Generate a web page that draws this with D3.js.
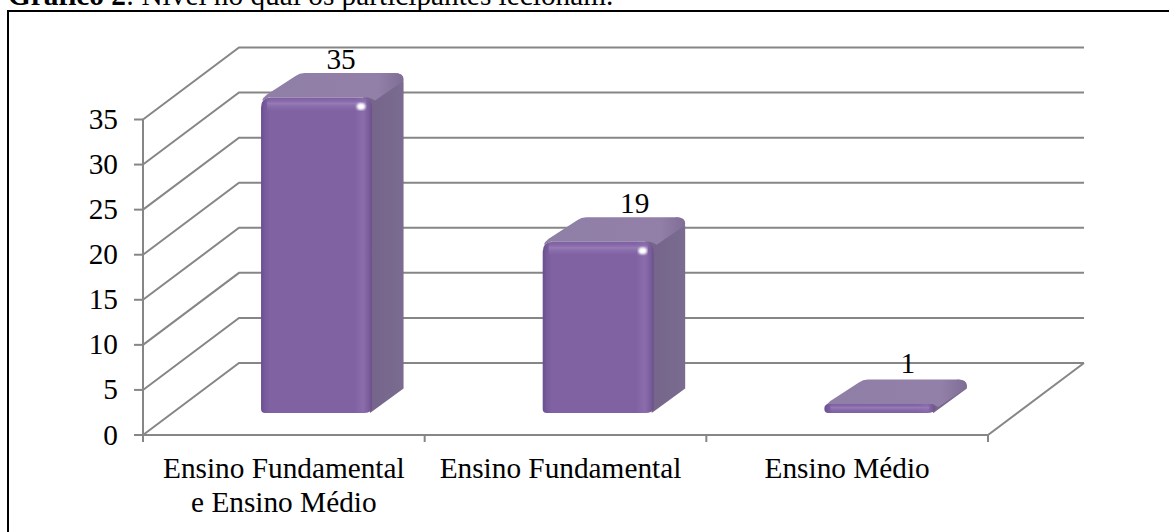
<!DOCTYPE html>
<html><head><meta charset="utf-8">
<style>html,body{margin:0;padding:0;background:#fff;overflow:hidden}svg{display:block}text{font-family:"Liberation Serif",serif;fill:#000}</style>
<script src="https://d3js.org/d3.v7.min.js"></script></head><body>
<svg id="c" width="1169" height="532"></svg>
<script>
const categories=[["Ensino Fundamental","e Ensino Médio"],["Ensino Fundamental"],["Ensino Médio"]];
const values=[35,19,1];
const yTicks=[0,5,10,15,20,25,30,35];
const titleBold="Gráfico 2";
const titleRest=": Nível no qual os participantes lecionam.";

const svg=d3.select("#c");
const defs=svg.append("defs");
const P={x0:143,x1:988,y0:435,yT:119.5,dx:96,dy:-72};
const y=d3.scaleLinear().domain([0,35]).range([P.y0,P.yT]);
const x=d3.scaleBand().domain(d3.range(categories.length)).range([P.x0,P.x1]);
const barW=111,bdx=31.5,bdy=-24.5,zx=32.7,zy=-22;
const labelShift=[24.5,36.5,28],labelLift=[4,4,6],catShift=[0,-5,0];
const grid="#868686";

function grad(id,dir,stops){
 const g=defs.append("linearGradient").attr("id",id);
 if(dir==="h")g.attr("x1",0).attr("x2",1).attr("y1",0).attr("y2",0);else g.attr("x1",0).attr("x2",0).attr("y1",0).attr("y2",1);
 stops.forEach(s=>g.append("stop").attr("offset",s[0]).attr("stop-color",s[1]).attr("stop-opacity",s[2]===undefined?1:s[2]));
}
grad("front","h",[[0,"#6a5090"],[0.04,"#785b9c"],[0.08,"#8062a3"],[0.84,"#8062a3"],[0.92,"#8b6dac"],[0.97,"#7a5d9c"],[1,"#6b5189"]]);
grad("topEdge","v",[[0,"#8062a3",0],[0.4,"#967bb6",1],[1,"#8062a3",0]]);
grad("side","h",[[0,"#756389"],[0.8,"#786a8e"],[1,"#7b6b92"]]);
grad("topF","h",[[0,"#8f7ea6"],[0.82,"#9280a8"],[1,"#7f6d96"]]);
defs.append("filter").attr("id","soft").append("feGaussianBlur").attr("stdDeviation",1);

svg.append("path").attr("d","M8,540 L8,11 L1180,11").attr("fill","none").attr("stroke","#000").attr("stroke-width",2);

const t=svg.append("text").attr("x",8).attr("y",4.5).attr("font-size",29.3);
t.append("tspan").attr("font-weight","bold").text(titleBold);
t.append("tspan").text(titleRest);

const g=svg.append("g").attr("fill","none").attr("stroke",grid).attr("stroke-width",2);
yTicks.forEach(v=>{
 g.append("path").attr("d",d3.line()([[P.x0,y(v)],[P.x0+P.dx,y(v)+P.dy],[P.x1+P.dx,y(v)+P.dy]]));
 g.append("line").attr("x1",P.x0-9).attr("x2",P.x0).attr("y1",y(v)).attr("y2",y(v));
});
g.append("line").attr("x1",P.x0).attr("x2",P.x0).attr("y1",y(35)).attr("y2",y(0)+7);
g.append("line").attr("x1",P.x0).attr("x2",P.x1).attr("y1",y(0)).attr("y2",y(0));
g.append("line").attr("x1",P.x1).attr("x2",P.x1+P.dx).attr("y1",y(0)).attr("y2",y(0)+P.dy);
d3.range(categories.length+1).forEach(i=>{
 const xx=i<categories.length?x(i):P.x1;
 g.append("line").attr("x1",xx).attr("x2",xx).attr("y1",y(0)).attr("y2",y(0)+7);
});

svg.append("g").selectAll("text").data(yTicks).join("text")
 .attr("x",P.x0-25).attr("y",v=>y(v)+9.5).attr("text-anchor","end").attr("font-size",29.3).text(d=>d);

values.forEach((v,i)=>{
 const L=x(i)+x.bandwidth()/2+zx-barW/2, R=L+barW;
 const B=y(0)+zy, T=B-(y(0)-y(v));
 const gb=svg.append("g");
 const h=B-T, r=Math.min(10,h/2);
 gb.append("path").attr("fill","url(#side)")
  .attr("d",`M${R-2},${B} L${R+bdx},${B+bdy} L${R+bdx},${T+bdy+9} Q${R+bdx},${T+bdy} ${R+bdx-9},${T+bdy} L${R-9},${T} Z`);
 gb.append("path").attr("fill","url(#topF)")
  .attr("d",`M${L+1},${T+3} Q${L+2},${T} ${L+6},${T-3} L${L+bdx+3},${T+bdy+3} Q${L+bdx+7},${T+bdy} ${L+bdx+12},${T+bdy} L${R+bdx-9},${T+bdy} Q${R+bdx},${T+bdy} ${R+bdx},${T+bdy+6} Q${R+bdx},${T+bdy+9} ${R+bdx-3},${T+bdy+10} L${R+3},${T+3} Q${R},${T+1} ${R-4},${T} L${L+8},${T} Z`);
 gb.append("path").attr("fill","url(#front)")
  .attr("d",`M${L+r},${T} L${R-r},${T} Q${R},${T} ${R},${T+r} L${R},${B-4} Q${R-2},${B} ${R-8},${B} L${L+4},${B} Q${L},${B} ${L},${B-4} L${L},${T+r} Q${L},${T} ${L+r},${T} Z`);
 gb.append("rect").attr("x",L+6).attr("y",T).attr("width",barW-12).attr("height",Math.min(15,h)).attr("rx",3).attr("fill","url(#topEdge)");
 if(h>40){
  gb.append("ellipse").attr("cx",R-11).attr("cy",T+9).attr("rx",4.4).attr("ry",3.6).attr("fill","#fff").attr("filter","url(#soft)");
 }
 svg.append("text").attr("x",(L+R)/2+labelShift[i]).attr("y",T+bdy-labelLift[i]).attr("text-anchor","middle").attr("font-size",29.3).text(v);
});

categories.forEach((lines,i)=>{
 const cx=x(i)+x.bandwidth()/2+catShift[i];
 const tx=svg.append("text").attr("text-anchor","middle").attr("font-size",29.3);
 lines.forEach((l,k)=>tx.append("tspan").attr("x",cx).attr("y",478+k*34).text(l));
});
</script></body></html>
